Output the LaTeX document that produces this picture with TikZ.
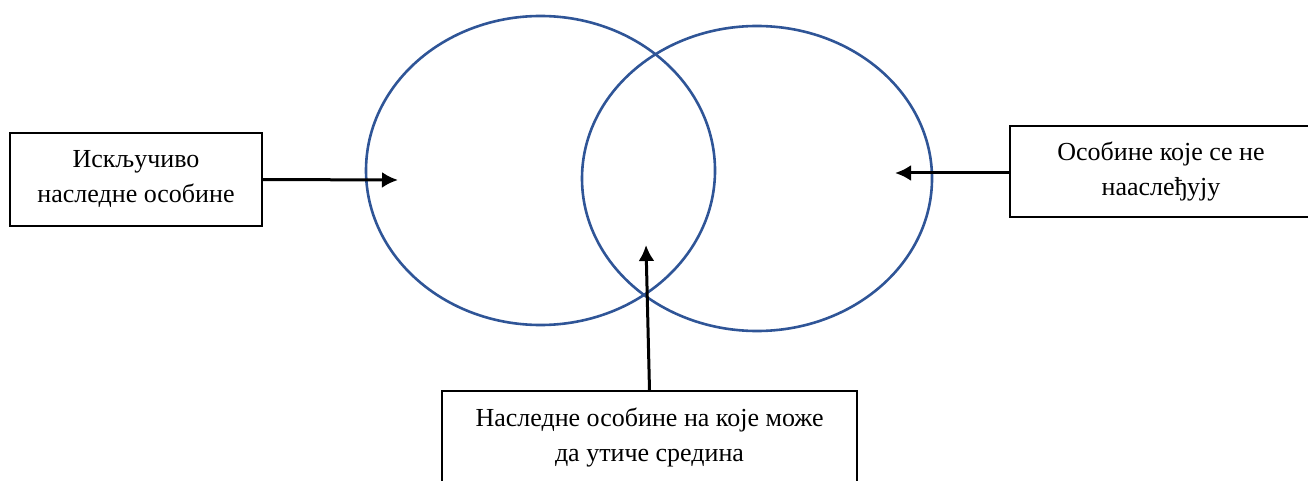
\documentclass[tikz,border=0pt]{standalone}
\usepackage{fontspec}
\setmainfont{Liberation Serif}
\usetikzlibrary{shapes.geometric}
\usetikzlibrary{arrows.meta}
\usepackage{xcolor}
\definecolor{ovalblue}{HTML}{2F5597}

\begin{document}
\begin{tikzpicture}[x=1pt, y=-1pt]
        % ================= styles =================
        \tikzset{
            % blue oval of a trait set
            oval/.style={ellipse, draw=ovalblue, line width=2.6pt, inner sep=0pt},
            % white box with a caption
            tbox/.style={rectangle, draw=black, line width=1.2pt, fill=white, align=center, inner sep=0pt, font=\fontsize{26}{35}\selectfont},
            % black pointer arrow
            pointer/.style={line width=3pt, -{Latex[length=16pt,width=16pt]}}
        }
        \useasboundingbox (0,0) rectangle (1308,481);
        \clip (0,0) rectangle (1308,481);

        % ================= coordinates (arrow tips) =================
        \coordinate (lhit) at (398,180);
        \coordinate (rhit) at (895,173);
        \coordinate (mhit) at (646,245);

        % ================= ovals =================
        \node[oval, minimum width=349, minimum height=309] (lset) at (540.5,170.5) {};
        \node[oval, minimum width=350, minimum height=305] (rset) at (757,178.5) {};

        % ================= boxes =================
        \node[tbox, minimum width=252, minimum height=93] (onlyinh) at (136,179.5) {Искључиво\\наследне особине};
        \node[tbox, minimum width=302, minimum height=91] (noninh) at (1161,171.5) {Особине које се не\\нааслеђују};
        \node[tbox, minimum width=415, minimum height=93] (envinh) at (649.5,437.5) {Наследне особине на које може\\да утиче средина};

        % ================= arrows =================
        \draw[pointer] (onlyinh.east) -- (lhit);
        \draw[pointer] (noninh.west |- rhit) -- (rhit);
        \draw[pointer] (envinh.north) -- (mhit);

    \end{tikzpicture}
\end{document}
